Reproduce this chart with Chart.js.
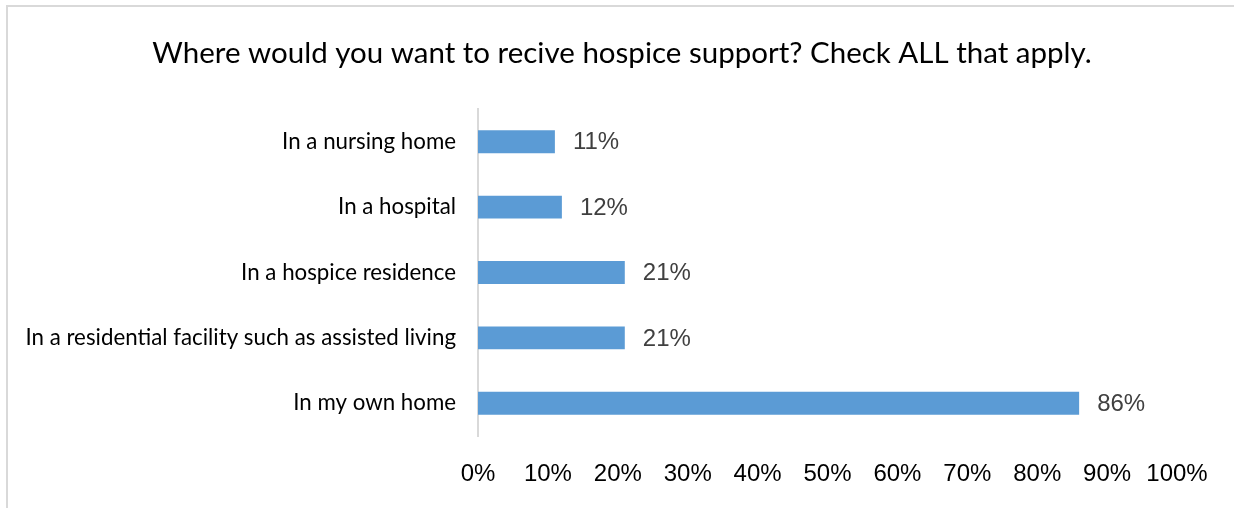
<!DOCTYPE html>
<html>
<head>
<meta charset="utf-8">
<title>Where would you want to recive hospice support?</title>
<script src="https://cdn.jsdelivr.net/npm/chart.js@4.4.1/dist/chart.umd.min.js"></script>
<style>
  html, body { margin: 0; padding: 0; background: #ffffff; }
  #wrap { position: relative; width: 1234px; height: 508px; overflow: hidden; }
  #frame { position: absolute; left: 6px; top: 5px; right: -10px; bottom: -10px;
           border-top: 2px solid #d9d9d9; border-left: 2px solid #d9d9d9; }
  #c { position: absolute; left: 0; top: 0; }
</style>
</head>
<body>
<div id="wrap">
  <div id="frame"></div>
  <canvas id="c" width="1234" height="508"></canvas>
</div>
<script>
// Survey answers, top to bottom
const categories = [
  'In a nursing home',
  'In a hospital',
  'In a hospice residence',
  'In a residential facility such as assisted living',
  'In my own home'
];
// Share of respondents choosing each place (%)
const shares = [11, 12, 21, 21, 86];
// Value axis
const axisMin = 0;
const axisMax = 100;
const axisStep = 10;

const titleText = 'Where would you want to recive hospice support? Check ALL that apply.';

const labelFont = "'Lato', 'Open Sans', sans-serif";
const numberFont = "'Liberation Sans', Arial, sans-serif";

// Chart heading, centred over the whole frame
const heading = {
  id: 'heading',
  afterDraw(chart) {
    const ctx = chart.ctx;
    ctx.save();
    ctx.font = '29.5px ' + labelFont;
    ctx.fillStyle = '#000000';
    ctx.textAlign = 'center';
    ctx.textBaseline = 'middle';
    ctx.fillText(titleText, 622, 53);
    ctx.restore();
  }
};

// Writes the percentage just past the end of each bar
const valueLabels = {
  id: 'valueLabels',
  afterDatasetsDraw(chart) {
    const ctx = chart.ctx;
    const meta = chart.getDatasetMeta(0);
    ctx.save();
    ctx.font = '24px ' + numberFont;
    ctx.fillStyle = '#404040';
    ctx.textAlign = 'left';
    ctx.textBaseline = 'middle';
    meta.data.forEach((bar, i) => {
      ctx.fillText(shares[i] + '%', bar.x + 18, bar.y + 1);
    });
    ctx.restore();
  }
};

new Chart(document.getElementById('c'), {
  type: 'bar',
  data: {
    labels: categories,
    datasets: [{
      data: shares,
      backgroundColor: '#5b9bd5',
      borderWidth: 0,
      categoryPercentage: 1,
      barPercentage: 0.35
    }]
  },
  options: {
    indexAxis: 'y',
    responsive: false,
    animation: false,
    events: [],
    layout: { padding: { top: 109, right: 57, bottom: 19, left: 0 } },
    plugins: {
      legend: { display: false },
      tooltip: { enabled: false },
      title: { display: false }
    },
    scales: {
      x: {
        min: axisMin,
        max: axisMax,
        grid: { display: false, drawTicks: false },
        border: { display: false },
        ticks: {
          stepSize: axisStep,
          padding: 24,
          color: '#000000',
          font: { family: numberFont, size: 24 },
          maxRotation: 0,
          callback: (v) => v + '%'
        },
        afterFit(scale) { scale.height = 53; }
      },
      y: {
        grid: { display: false, drawTicks: false },
        border: { display: true, color: '#d9d9d9', width: 2 },
        ticks: {
          padding: 22,
          color: '#000000',
          font: { family: labelFont, size: 22.3 }
        },
        afterFit(scale) { scale.width = 478; }
      }
    }
  },
  plugins: [valueLabels, heading]
});
</script>
</body>
</html>
